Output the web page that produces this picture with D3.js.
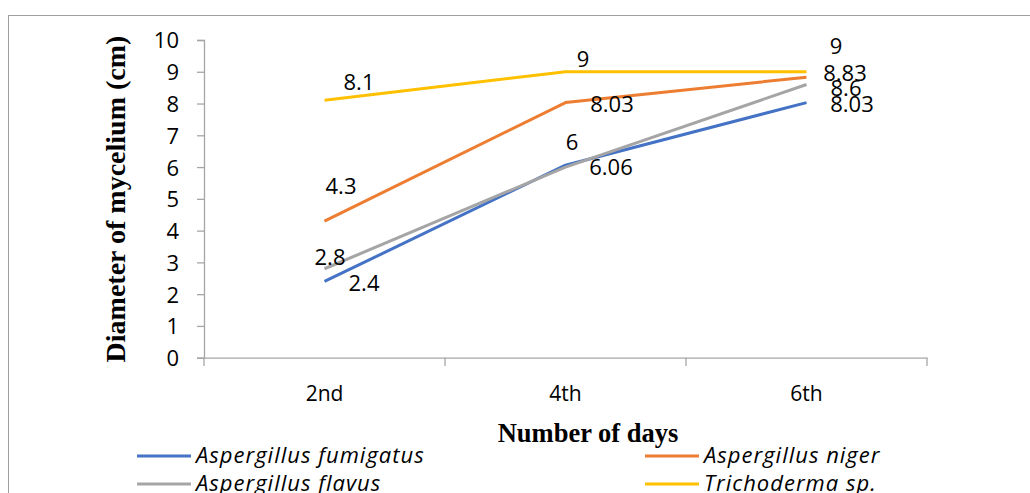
<!DOCTYPE html>
<html><head><meta charset="utf-8">
<script src="https://cdn.jsdelivr.net/npm/d3@7"></script>
<style>body{margin:0;background:#fff}svg{display:block}</style>
</head><body>
<svg id="c" width="1030" height="493"></svg>
<script>
const categories = ["2nd", "4th", "6th"];
const seriesNames = ["Aspergillus fumigatus", "Aspergillus niger", "Aspergillus flavus", "Trichoderma sp."];
const fumigatus = [2.4, 6.06, 8.03];
const niger = [4.3, 8.03, 8.83];
const flavus = [2.8, 6, 8.6];
const trichoderma = [8.1, 9, 9];
const yTicks = [0,1,2,3,4,5,6,7,8,9,10];
const seriesValues = [fumigatus, niger, flavus, trichoderma];
const colors = ["#4472C4", "#ED7D31", "#A5A5A5", "#FFC000"];
// label offsets (px) relative to point, per series, per category
const labelOffsets = [
  [[39.5, 1.5], [45.5, 2], [45.5, 1.4]],
  [[16.5, -35], [46.5, 1.4], [38.5, -4]],
  [[5.5, -12], [6.5, -25], [39.5, 3.5]],
  [[34.5, -18], [17.5, -13], [29.5, -26]]
];

const svg = d3.select("#c");
const axisColor = "#A6A6A6";
const numFont = "'Open Sans', sans-serif";

// outer border
svg.append("rect").attr("x", 8.5).attr("y", 15.5).attr("width", 1030).attr("height", 500)
  .attr("fill", "none").attr("stroke", "#A0A0A0").attr("stroke-width", 1);

const x = d3.scaleBand().domain(categories).range([204, 927]);
const y = d3.scaleLinear().domain([0, 10]).range([357.7, 40]);
const cx = d => x(d) + x.bandwidth() / 2;

// y axis
const yAxis = svg.append("g").attr("transform", "translate(204,0)")
  .call(d3.axisLeft(y).tickValues(yTicks).tickSize(7).tickPadding(18).tickFormat(d3.format("d")));
yAxis.select(".domain").attr("stroke", axisColor).attr("stroke-width", 1.3);
yAxis.selectAll(".tick line").attr("stroke", axisColor).attr("stroke-width", 1.3);
yAxis.selectAll(".tick text").attr("font-family", numFont).attr("font-size", 22).attr("fill", "#000")
  .attr("dy", "0.36em");

// x axis
const xAxis = svg.append("g").attr("transform", "translate(0,357.7)")
  .call(d3.axisBottom(x).tickSize(0).tickPadding(0));
xAxis.select(".domain").attr("stroke", axisColor).attr("stroke-width", 1.3);
xAxis.selectAll(".tick text").attr("font-family", numFont).attr("font-size", 21).attr("fill", "#000")
  .attr("dy", 0).attr("y", 43);
// category boundary ticks
const bounds = categories.map(c => x(c)).concat([x(categories[categories.length - 1]) + x.bandwidth()]);
svg.append("g").selectAll("line").data(bounds).join("line")
  .attr("x1", d => d).attr("x2", d => d).attr("y1", 357.7).attr("y2", 366)
  .attr("stroke", axisColor).attr("stroke-width", 1.3);

// lines
const line = d3.line().x((d, i) => cx(categories[i])).y(d => y(d));
seriesValues.forEach((vals, s) => {
  svg.append("path").datum(vals).attr("d", line).attr("fill", "none")
    .attr("stroke", colors[s]).attr("stroke-width", 3).attr("stroke-linejoin", "round");
});

// data labels
seriesValues.forEach((vals, s) => {
  svg.append("g").selectAll("text").data(vals).join("text")
    .attr("x", (d, i) => cx(categories[i]) + labelOffsets[s][i][0])
    .attr("y", (d, i) => y(d) + labelOffsets[s][i][1])
    .attr("dy", "0.36em")
    .attr("text-anchor", "middle").attr("font-family", numFont).attr("font-size", 22).attr("fill", "#000")
    .text(d => String(d));
});

// axis titles
svg.append("text").attr("x", 588).attr("y", 442).attr("text-anchor", "middle")
  .attr("font-family", "'Liberation Serif', 'Times New Roman', serif").attr("font-weight", "bold")
  .attr("font-size", 26.5).text("Number of days");
svg.append("text").attr("transform", "translate(125,199) rotate(-90)").attr("text-anchor", "middle")
  .attr("font-family", "'Liberation Serif', 'Times New Roman', serif").attr("font-weight", "bold")
  .attr("font-size", 28).text("Diameter of mycelium (cm)");

// legend
const legendPos = [[137, 456], [645, 456], [137, 484], [645, 484]];
seriesNames.forEach((name, s) => {
  const [lx, ly] = legendPos[s];
  svg.append("line").attr("x1", lx).attr("x2", lx + 54).attr("y1", ly).attr("y2", ly)
    .attr("stroke", colors[s]).attr("stroke-width", 3);
  svg.append("text").attr("x", lx + 59).attr("y", ly + 7).attr("font-family", numFont)
    .attr("font-style", "italic").attr("font-size", 22).attr("letter-spacing", 1)
    .attr("fill", "#000").text(name);
});
</script>
</body></html>
